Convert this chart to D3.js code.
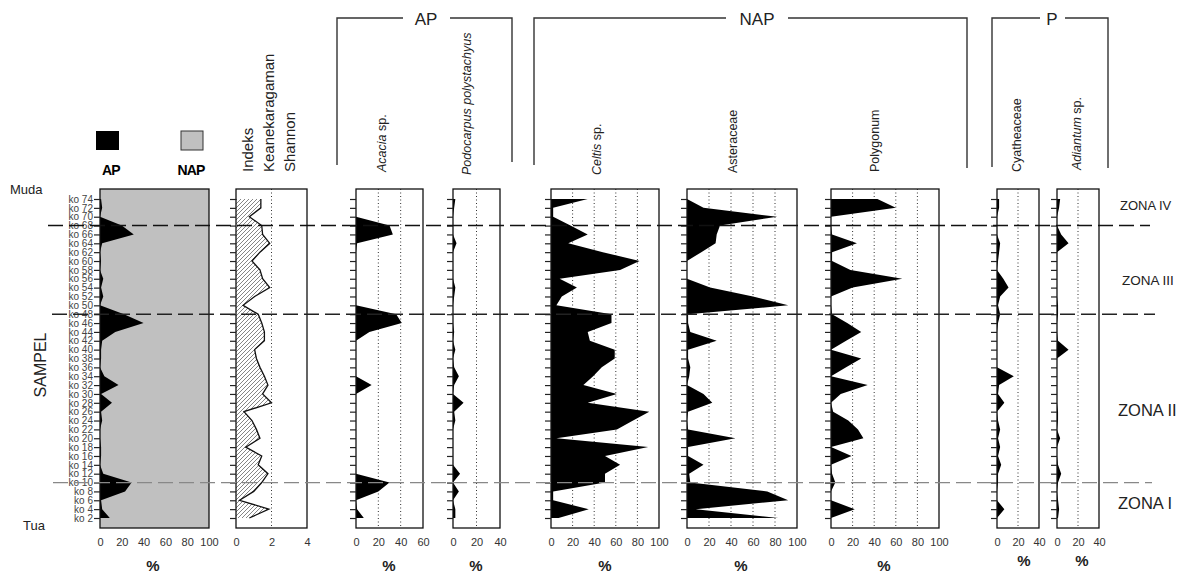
<!DOCTYPE html>
<html lang="id">
<head>
<meta charset="UTF-8">
<title>Diagram Polen</title>
<script src="https://d3js.org/d3.v7.min.js"></script>
<style>
  body { margin: 0; background: #fff; }
  svg { display: block; font-family: Arial, "Liberation Sans", sans-serif; }
</style>
</head>
<body>
<svg id="chart" width="1179" height="576"></svg>
<script>
// sampel, dari atas (muda) ke bawah (tua)
const samples = ["ko 74","ko 72","ko 70","ko 68","ko 66","ko 64","ko 62","ko 60","ko 58","ko 56",
                 "ko 54","ko 52","ko 50","ko 48","ko 46","ko 44","ko 42","ko 40","ko 38","ko 36",
                 "ko 34","ko 32","ko 30","ko 28","ko 26","ko 24","ko 22","ko 20","ko 18","ko 16",
                 "ko 14","ko 12","ko 10","ko 8","ko 6","ko 4","ko 2"];

const apTotal   = [1,2,0,20,31,2,0,1,0,3, 1,3,0,22,40,14,2,1,1,0, 4,17,1,11,1,2,0,0,1,1, 0,3,29,23,1,2,9];
const shannon   = [1.4,1.4,0.75,1.45,1.5,1.9,1.35,0.9,1.35,1.5, 1.9,1.05,0.4,1.25,1.45,1.6,1.6,1.05,1.15,1.35,
                   1.6,1.8,1.5,2.0,0.45,0.9,1.15,1.35,0.55,1.45, 1.25,1.8,1.45,1.0,0.2,1.85,0.75];
const acacia    = [0,0,0,30,33,1,0,0,0,0, 0,0,0,36,41,12,0,0,0,0, 0,14,0,0,0,0,0,0,0,0, 0,0,30,20,0,1,7];
const podocarpus= [2,1,0,0,0,3,0,0,0,0, 2,1,0,0,0,1,0,2,0,1, 5,1,0,9,1,2,0,0,0,0, 0,6,0,5,0,2,2];
const celtis    = [34,2,2,18,34,16,48,82,64,8, 24,10,5,56,56,34,36,59,59,47, 39,30,61,34,91,76,61,5,90,50, 64,50,50,2,2,35,7];
const asteraceae= [0,15,82,30,27,26,13,0,0,0, 21,60,92,1,1,3,27,1,1,3, 2,0,15,23,1,0,1,44,1,1, 15,2,3,73,92,8,83];
const polygonum = [43,60,0,0,1,24,1,1,18,66, 20,0,0,1,15,28,14,0,28,14, 0,34,9,0,2,16,25,30,0,19, 0,1,4,0,0,22,0];
const cyathea   = [2,2,0,0,0,3,2,1,0,6, 11,3,1,3,1,0,0,0,0,0, 16,2,1,7,0,1,3,1,3,1, 4,1,1,0,0,7,0];
const adiantum  = [3,2,0,0,4,11,0,0,0,0, 0,0,1,1,0,0,1,11,0,0, 0,0,0,0,1,1,0,3,0,0, 1,4,1,0,1,2,1];

const zoneBounds = ["ko 68","ko 48","ko 10"];
const zoneNames  = ["ZONA IV","ZONA III","ZONA II","ZONA I"];

const svg = d3.select("#chart");
svg.append("rect").attr("width", 1179).attr("height", 576).attr("fill", "#fff");

const plotTop = 189, plotBottom = 528;
const y = d3.scalePoint(samples, [199, 518]);

// hatch pattern for Shannon
svg.append("defs").append("pattern")
    .attr("id", "hatch").attr("patternUnits", "userSpaceOnUse")
    .attr("width", 4).attr("height", 4)
  .append("path")
    .attr("d", "M-1,1 l2,-2 M0,4 l4,-4 M3,5 l2,-2")
    .attr("stroke", "#666").attr("stroke-width", 0.8);

const panels = [
  {values: apTotal,    max: 100, x0: 100, x1: 209, ticks: [0,20,40,60,80,100], labels: true, grey: true},
  {values: shannon,    max: 4,   x0: 236, x1: 307, ticks: [0,2,4], hatch: true},
  {values: acacia,     max: 60,  x0: 356, x1: 423, ticks: [0,20,40,60]},
  {values: podocarpus, max: 40,  x0: 453, x1: 500, ticks: [0,20,40]},
  {values: celtis,     max: 100, x0: 551, x1: 659, ticks: [0,20,40,60,80,100]},
  {values: asteraceae, max: 100, x0: 687, x1: 797, ticks: [0,20,40,60,80,100]},
  {values: polygonum,  max: 100, x0: 831, x1: 939, ticks: [0,20,40,60,80,100]},
  {values: cyathea,    max: 40,  x0: 997, x1: 1039, ticks: [0,20,40]},
  {values: adiantum,   max: 40,  x0: 1057, x1: 1099, ticks: [0,20,40]}
];

panels.forEach(p => {
  const x = d3.scaleLinear([0, p.max], [p.x0, p.x1]);
  const g = svg.append("g");
  const data = samples.map((s, i) => ({s: s, v: p.values[i]}));

  if (p.grey) {
    g.append("rect").attr("x", p.x0).attr("y", plotTop)
      .attr("width", p.x1 - p.x0).attr("height", plotBottom - plotTop).attr("fill", "#c0c0c0");
  } else {
    g.selectAll(".grid").data(p.ticks.filter(t => t > 0 && t < p.max)).enter()
      .append("line")
      .attr("x1", d => x(d)).attr("x2", d => x(d))
      .attr("y1", plotTop).attr("y2", plotBottom)
      .attr("stroke", "#333").attr("stroke-width", 1).attr("stroke-dasharray", "1,2.5");
  }

  const area = d3.area().y(d => y(d.s)).x0(x(0)).x1(d => x(d.v));
  g.append("path").datum(data).attr("d", area)
    .attr("fill", p.hatch ? "url(#hatch)" : "#000");
  if (p.hatch) {
    g.append("path").datum(data)
      .attr("d", d3.line().y(d => y(d.s)).x(d => x(d.v)))
      .attr("fill", "none").attr("stroke", "#111").attr("stroke-width", 1.3);
  }

  g.append("rect").attr("x", p.x0).attr("y", plotTop)
    .attr("width", p.x1 - p.x0).attr("height", plotBottom - plotTop)
    .attr("fill", "none").attr("stroke", "#111").attr("stroke-width", 1.3);

  const ax = g.append("g").attr("transform", `translate(${p.x0},0)`)
    .call(d3.axisLeft(y).tickSize(6).tickPadding(1).tickFormat(p.labels ? null : ""))
    .attr("font-family", null);
  ax.select(".domain").remove();
  ax.selectAll("line").attr("stroke", "#222").attr("stroke-width", 1.2);
  ax.selectAll("text").attr("font-size", 10).attr("fill", "#444");

  const bx = g.append("g").attr("transform", `translate(0,${plotBottom})`)
    .call(d3.axisBottom(x).tickValues(p.ticks).tickSize(0).tickPadding(10).tickFormat(d3.format("d")))
    .attr("font-family", null);
  bx.select(".domain").remove();
  bx.selectAll("text").attr("font-size", 11).attr("fill", "#333");
});

// % labels
const pct = [[153, 571], [389, 571], [476, 571], [605, 571], [741, 571], [884, 571], [1024, 566], [1082, 566]];
svg.selectAll(".pct").data(pct).enter().append("text")
  .attr("x", d => d[0]).attr("y", d => d[1]).attr("text-anchor", "middle")
  .attr("font-size", 15).attr("font-weight", "bold").attr("fill", "#222").text("%");

// left labels
svg.append("text").attr("x", 10).attr("y", 194).attr("font-size", 13).attr("fill", "#222").text("Muda");
svg.append("text").attr("x", 23).attr("y", 530).attr("font-size", 13).attr("fill", "#222").text("Tua");
svg.append("text").attr("transform", "translate(40,365) rotate(-90)").attr("dy", "0.35em")
  .attr("text-anchor", "middle").attr("font-size", 16).attr("fill", "#222").text("SAMPEL");

// legend
svg.append("rect").attr("x", 96).attr("y", 131).attr("width", 23).attr("height", 19).attr("fill", "#000");
svg.append("rect").attr("x", 181).attr("y", 131).attr("width", 22).attr("height", 19)
  .attr("fill", "#c0c0c0").attr("stroke", "#333").attr("stroke-width", 1);
svg.append("text").attr("x", 111).attr("y", 175).attr("text-anchor", "middle")
  .attr("font-size", 14).attr("font-weight", "bold").attr("letter-spacing", -0.8).text("AP");
svg.append("text").attr("x", 191).attr("y", 175).attr("text-anchor", "middle")
  .attr("font-size", 14).attr("font-weight", "bold").attr("letter-spacing", -0.8).text("NAP");

// rotated taxon titles
const titles = [
  {x: 248, b: 172, parts: [["Indeks", false]], size: 15},
  {x: 269, b: 172, parts: [["Keanekaragaman", false]], size: 15},
  {x: 290, b: 172, parts: [["Shannon", false]], size: 15},
  {x: 382, b: 172, parts: [["Acacia", true], [" sp.", false]], size: 12.5},
  {x: 467, b: 175, parts: [["Podocarpus polystachyus", true]], size: 12.5},
  {x: 597, b: 175, parts: [["Celtis", true], [" sp.", false]], size: 12.5},
  {x: 733, b: 173, parts: [["Asteraceae", false]], size: 12.5},
  {x: 875, b: 172, parts: [["Polygonum", false]], size: 12.5},
  {x: 1017, b: 172, parts: [["Cyatheaceae", false]], size: 12.5},
  {x: 1077, b: 170, parts: [["Adiantum", true], [" sp.", false]], size: 12.5}
];
titles.forEach(t => {
  const tx = svg.append("text").attr("transform", `translate(${t.x},${t.b}) rotate(-90)`)
    .attr("dy", "0.35em").attr("font-size", t.size).attr("fill", "#222");
  t.parts.forEach(pt => tx.append("tspan").attr("font-style", pt[1] ? "italic" : "normal").text(pt[0]));
});

// group brackets
const brackets = [
  {name: "AP",  x0: 337, x1: 512, g0: 403, g1: 450, cx: 426, b0: 165, b1: 162},
  {name: "NAP", x0: 534, x1: 967, g0: 726, g1: 788, cx: 757, b0: 165, b1: 168},
  {name: "P",   x0: 992, x1: 1108, g0: 1040, g1: 1065, cx: 1052, b0: 167, b1: 168}
];
brackets.forEach(b => {
  svg.append("path").attr("d", `M${b.x0},${b.b0} V18 H${b.g0} M${b.g1},18 H${b.x1} V${b.b1}`)
    .attr("fill", "none").attr("stroke", "#333").attr("stroke-width", 1.4);
  svg.append("text").attr("x", b.cx).attr("y", 25).attr("text-anchor", "middle")
    .attr("font-size", 17).attr("fill", "#222").text(b.name);
});

// zone boundaries
const zoneStyle = [
  {x0: 48, x1: 1150, c: "#111", w: 1.5},
  {x0: 52, x1: 1155, c: "#222", w: 1.5},
  {x0: 53, x1: 1152, c: "#888", w: 1.3}
];
zoneBounds.forEach((s, i) => {
  const z = zoneStyle[i];
  svg.append("line").attr("x1", z.x0).attr("x2", z.x1).attr("y1", y(s)).attr("y2", y(s))
    .attr("stroke", z.c).attr("stroke-width", z.w).attr("stroke-dasharray", "15,6");
});

const zonePos = [[1120, 210, 13], [1122, 285, 13.5], [1118, 416, 16.5], [1118, 509, 16.5]];
zoneNames.forEach((n, i) => {
  svg.append("text").attr("x", zonePos[i][0]).attr("y", zonePos[i][1])
    .attr("font-size", zonePos[i][2]).attr("fill", "#222").text(n);
});
</script>
</body>
</html>
